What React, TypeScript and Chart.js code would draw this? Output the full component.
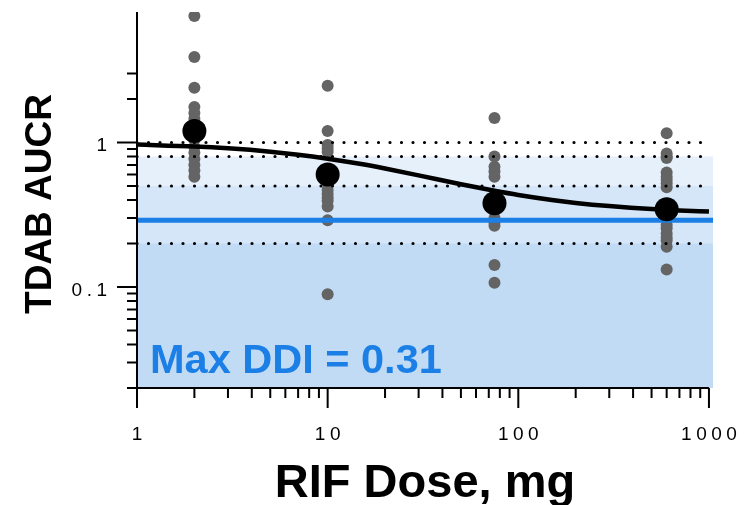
import React, { useEffect, useRef } from 'react';
import { Chart, registerables } from 'chart.js';

Chart.register(...registerables);

// ---- data ----
const doseLevels = [2, 10, 75, 600];
const aucrDose2 = [7.5, 3.9, 2.39, 1.76, 1.6, 1.46, 1.31, 1.17, 1.04, 0.93, 0.85, 0.77, 0.7, 0.64, 0.58];
const aucrDose10 = [2.47, 1.2, 0.96, 0.91, 0.86, 0.64, 0.56, 0.47, 0.44, 0.415, 0.395, 0.36, 0.29, 0.089];
const aucrDose75 = [1.48, 0.8, 0.68, 0.63, 0.58, 0.43, 0.36, 0.3, 0.28, 0.265, 0.142, 0.107];
const aucrDose600 = [1.16, 0.84, 0.8, 0.78, 0.62, 0.58, 0.55, 0.52, 0.49, 0.36, 0.33, 0.27, 0.255, 0.235, 0.22, 0.21, 0.19, 0.132];
const meanAucr = [1.2, 0.6, 0.38, 0.345];

const curveDose = [1, 2, 3, 5, 7, 10, 15, 20, 30, 50, 75, 100, 150, 200, 300, 500, 700, 1000];
const curveAucr = [0.968, 0.938, 0.911, 0.864, 0.824, 0.773, 0.709, 0.66, 0.592, 0.514, 0.463, 0.433, 0.4, 0.382, 0.363, 0.346, 0.339, 0.333];

const refLineLevels = [1, 0.8, 0.5, 0.2];
const bandLevels = [0.8, 0.5, 0.2];
const bandColors = ['#e6f0fb', '#d4e6f8', '#c1dbf5'];
const maxDdiLine = 0.29;
const maxDdiLabel = 'Max DDI = 0.31';

const xMajorTicks = [1, 10, 100, 1000];
const xMajorLabels = ['1', '10', '100', '1000'];
const xMinorTicks = [2, 3, 4, 5, 6, 7, 8, 9, 20, 30, 40, 50, 60, 70, 80, 90, 200, 300, 400, 500, 600, 700, 800, 900];
const yMajorTicks = [0.1, 1];
const yMajorLabels = ['0.1', '1'];
const yMinorTicks = [0.02, 0.03, 0.04, 0.05, 0.06, 0.07, 0.08, 0.09, 0.2, 0.3, 0.4, 0.5, 0.6, 0.7, 0.8, 0.9, 2, 3];

const X_MIN = 1;
const X_MAX = 1050;
const Y_MIN = 0.02;
const Y_MAX = 8;
const REF_LINE_END = 930;

const FONT = '"Liberation Sans", Arial, sans-serif';

const axesPlugin = {
  id: 'customAxes',
  afterDraw(chart: any) {
    const ctx = chart.ctx as CanvasRenderingContext2D;
    const xs = chart.scales.x;
    const ys = chart.scales.y;
    const area = chart.chartArea;
    const x0 = xs.getPixelForValue(1);
    const x1000 = xs.getPixelForValue(1000);
    const yBottom = ys.getPixelForValue(Y_MIN);
    ctx.save();
    ctx.strokeStyle = '#000';
    ctx.lineWidth = 2;
    ctx.lineCap = 'butt';
    ctx.beginPath();
    ctx.moveTo(x0, area.top);
    ctx.lineTo(x0, yBottom);
    ctx.moveTo(x0, yBottom);
    ctx.lineTo(x1000, yBottom);
    ctx.stroke();
    ctx.beginPath();
    yMajorTicks.forEach((v) => {
      const p = ys.getPixelForValue(v);
      ctx.moveTo(x0, p);
      ctx.lineTo(x0 - 20, p);
    });
    yMinorTicks.forEach((v) => {
      const p = ys.getPixelForValue(v);
      ctx.moveTo(x0, p);
      ctx.lineTo(x0 - 10, p);
    });
    xMajorTicks.forEach((v) => {
      const p = xs.getPixelForValue(v);
      ctx.moveTo(p, yBottom);
      ctx.lineTo(p, yBottom + 20);
    });
    xMinorTicks.forEach((v) => {
      const p = xs.getPixelForValue(v);
      ctx.moveTo(p, yBottom);
      ctx.lineTo(p, yBottom + 10);
    });
    ctx.stroke();

    const sp = 4.5;
    ctx.fillStyle = '#000';
    ctx.font = `19px ${FONT}`;
    (ctx as any).letterSpacing = `${sp}px`;
    ctx.textBaseline = 'alphabetic';
    ctx.textAlign = 'center';
    xMajorTicks.forEach((v, i) => {
      const p = xs.getPixelForValue(v);
      ctx.fillText(xMajorLabels[i], p + sp / 2, yBottom + 52);
    });
    ctx.textAlign = 'right';
    yMajorTicks.forEach((v, i) => {
      const p = ys.getPixelForValue(v);
      ctx.fillText(yMajorLabels[i], x0 - 30 + sp, p + 9);
    });
    (ctx as any).letterSpacing = '0px';

    ctx.font = `bold 47px ${FONT}`;
    ctx.textAlign = 'center';
    ctx.fillText('RIF Dose, mg', 425, 497);

    ctx.save();
    ctx.translate(51, 204);
    ctx.rotate(-Math.PI / 2);
    ctx.font = `bold 37px ${FONT}`;
    ctx.textAlign = 'center';
    ctx.fillText('TDAB AUCR', 0, 0);
    ctx.restore();

    ctx.font = `bold 41.5px ${FONT}`;
    ctx.fillStyle = '#1b7fe6';
    ctx.textAlign = 'left';
    ctx.fillText(maxDdiLabel, 150, 373);
    ctx.restore();
  },
};

function pts(doses: number[], vals: number[]) {
  return vals.map((v, i) => ({ x: doses[i], y: v }));
}

export default function App() {
  const ref = useRef<HTMLCanvasElement | null>(null);
  useEffect(() => {
    if (!ref.current) return;
    const grayPoints = [aucrDose2, aucrDose10, aucrDose75, aucrDose600].flatMap((arr, k) =>
      arr.map((v) => ({ x: doseLevels[k], y: v }))
    );
    const datasets: any[] = [];
    bandLevels.forEach((lvl, i) => {
      datasets.push({
        type: 'line',
        data: [{ x: X_MIN, y: lvl }, { x: X_MAX, y: lvl }],
        borderWidth: 0,
        borderColor: 'rgba(0,0,0,0)',
        backgroundColor: bandColors[i],
        fill: 'start',
        pointRadius: 0,
        order: 100 - i,
      });
    });
    datasets.push({
      type: 'scatter',
      data: grayPoints,
      pointRadius: 6,
      pointBackgroundColor: '#646464',
      backgroundColor: '#646464',
      borderWidth: 0,
      pointBorderWidth: 0,
      showLine: false,
      order: 50,
    });
    datasets.push({
      type: 'line',
      data: [{ x: X_MIN, y: maxDdiLine }, { x: X_MAX, y: maxDdiLine }],
      borderColor: '#1b7fe6',
      borderWidth: 5,
      pointRadius: 0,
      fill: false,
      order: 40,
    });
    refLineLevels.forEach((lvl) => {
      datasets.push({
        type: 'line',
        data: [{ x: X_MIN, y: lvl }, { x: REF_LINE_END, y: lvl }],
        borderColor: '#000',
        borderWidth: 3.2,
        borderDash: [0, 11.5],
        borderCapStyle: 'round',
        pointRadius: 0,
        fill: false,
        order: 30,
      });
    });
    datasets.push({
      type: 'line',
      data: pts(curveDose, curveAucr),
      borderColor: '#000',
      borderWidth: 4.5,
      pointRadius: 0,
      cubicInterpolationMode: 'monotone',
      fill: false,
      order: 20,
    });
    datasets.push({
      type: 'scatter',
      data: pts(doseLevels, meanAucr),
      pointRadius: 12,
      pointBackgroundColor: '#000',
      backgroundColor: '#000',
      pointBorderWidth: 0,
      borderWidth: 0,
      showLine: false,
      order: 10,
    });

    const chart = new Chart(ref.current, {
      type: 'line',
      data: { datasets },
      options: {
        responsive: false,
        animation: false,
        devicePixelRatio: 1,
        layout: { padding: { left: 137, top: 9.5, right: 39, bottom: 117 } },
        plugins: { legend: { display: false }, tooltip: { enabled: false } },
        scales: {
          x: { type: 'logarithmic', min: X_MIN, max: X_MAX, display: false },
          y: { type: 'logarithmic', min: Y_MIN, max: Y_MAX, display: false },
        },
      } as any,
      plugins: [axesPlugin],
    });
    return () => chart.destroy();
  }, []);
  return (
    <div style={{ position: 'absolute', left: 0, top: 0, width: 752, height: 505, background: '#fff' }}>
      <canvas ref={ref} width={752} height={505} style={{ display: 'block' }} />
    </div>
  );
}
